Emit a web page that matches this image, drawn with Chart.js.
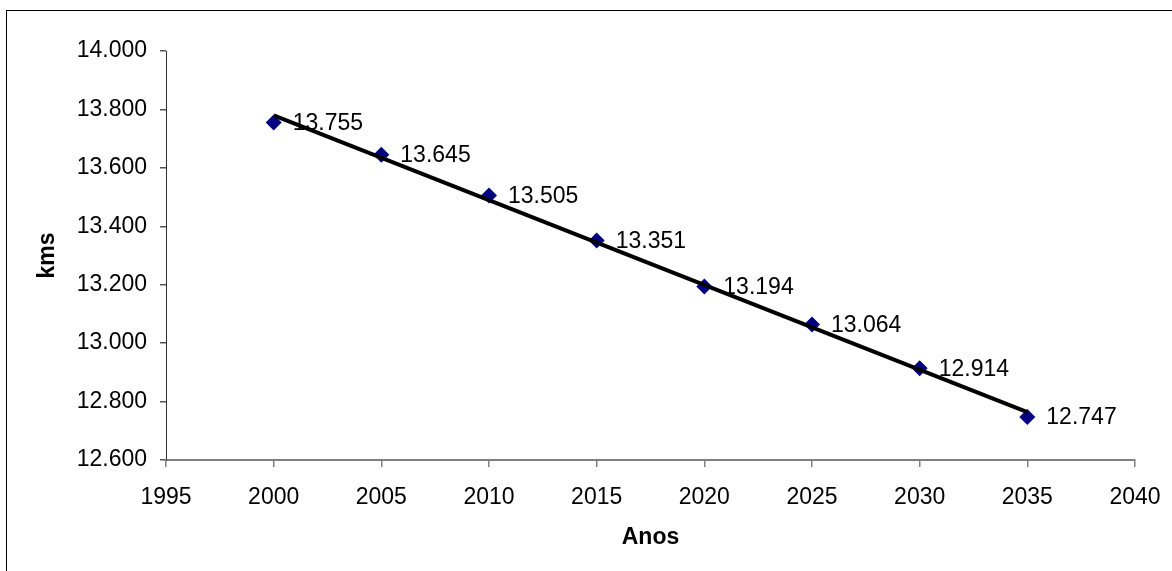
<!DOCTYPE html>
<html>
<head>
<meta charset="utf-8">
<script src="https://cdn.jsdelivr.net/npm/chart.js@4.4.1/dist/chart.umd.min.js"></script>
<style>
  html, body { margin: 0; padding: 0; background: #fff; overflow: hidden; }
  #frame {
    position: absolute; left: 6px; top: 10px; width: 1200px; height: 600px;
    border-left: 1px solid #000; border-top: 1px solid #000;
  }
  #chart { position: absolute; left: 0; top: 0; }
</style>
</head>
<body>
<div id="frame"></div>
<canvas id="chart" width="1172" height="571"></canvas>
<script>
// Chart data
const years = [2000, 2005, 2010, 2015, 2020, 2025, 2030, 2035];
const kms = [13755, 13645, 13505, 13351, 13194, 13064, 12914, 12747];
const xTicks = [1995, 2000, 2005, 2010, 2015, 2020, 2025, 2030, 2035, 2040];
const yTicks = [12600, 12800, 13000, 13200, 13400, 13600, 13800, 14000];

const FONT = "'Liberation Sans', Arial, sans-serif";

// thousands separator as in the original (pt)
function fmt(v) {
    return String(Math.round(v)).replace(/\B(?=(\d{3})+(?!\d))/g, '.');
}

// Linear trendline (least squares) like Excel's
function linearFit(xs, ys) {
    const n = xs.length;
    const mx = xs.reduce((a, b) => a + b, 0) / n;
    const my = ys.reduce((a, b) => a + b, 0) / n;
    let sxy = 0, sxx = 0;
    for (let i = 0; i < n; i++) {
        sxy += (xs[i] - mx) * (ys[i] - my);
        sxx += (xs[i] - mx) * (xs[i] - mx);
    }
    const slope = sxy / sxx;
    return x => my + slope * (x - mx);
}

const fit = linearFit(years, kms);
const xFirst = years[0];
const xLast = years[years.length - 1];

// draw value labels right after the markers, so the trendline goes over them
const valueLabels = {
    id: 'valueLabels',
    afterDatasetDraw(chart, args) {
        if (args.index !== 0) return;
        const ctx = chart.ctx;
        ctx.save();
        ctx.font = '23px ' + FONT;
        ctx.fillStyle = '#000';
        ctx.textAlign = 'left';
        ctx.textBaseline = 'middle';
        args.meta.data.forEach((pt, i) => {
            ctx.fillText(fmt(kms[i]), pt.x + 19, pt.y + 1);
        });
        ctx.restore();
    }
};

new Chart(document.getElementById('chart'), {
    type: 'scatter',
    data: {
        datasets: [{
            label: 'kms',
            data: years.map((y, i) => ({ x: y, y: kms[i] })),
            pointStyle: 'rectRot',
            pointRadius: 8,
            pointHoverRadius: 8,
            backgroundColor: '#000080',
            borderColor: '#000080',
            borderWidth: 0,
            order: 1
        }, {
            label: 'Linear',
            type: 'line',
            data: [{ x: xFirst, y: fit(xFirst) }, { x: xLast, y: fit(xLast) }],
            borderColor: '#000',
            borderWidth: 4,
            pointRadius: 0,
            fill: false,
            order: 0
        }]
    },
    options: {
        responsive: false,
        animation: false,
        devicePixelRatio: 1,
        layout: { padding: { top: 51, right: 37, left: 0, bottom: 0 } },
        plugins: {
            legend: { display: false },
            tooltip: { enabled: false }
        },
        scales: {
            x: {
                type: 'linear',
                min: 1995,
                max: 2040,
                afterBuildTicks: s => { s.ticks = xTicks.map(v => ({ value: v })); },
                afterFit: s => { s.height = 111; s.paddingLeft = 0; s.paddingRight = 0; },
                border: { color: '#808080', width: 2 },
                grid: { drawOnChartArea: false, tickLength: 7, color: '#808080', lineWidth: 1.5 },
                ticks: {
                    color: '#000',
                    padding: 17,
                    maxRotation: 0,
                    font: { family: FONT, size: 23 },
                    callback: v => String(v)
                },
                title: {
                    display: true,
                    text: 'Anos',
                    color: '#000',
                    font: { family: FONT, size: 23, weight: 'bold' },
                    padding: { top: 0, bottom: 20 }
                }
            },
            y: {
                min: 12600,
                max: 14000,
                afterBuildTicks: s => { s.ticks = yTicks.map(v => ({ value: v })); },
                afterFit: s => { s.width = 166; s.paddingTop = 0; s.paddingBottom = 0; },
                border: { color: '#333', width: 1 },
                grid: { drawOnChartArea: false, tickLength: 6, color: '#555', lineWidth: 1.5 },
                ticks: {
                    color: '#000',
                    padding: 13,
                    font: { family: FONT, size: 23 },
                    callback: v => fmt(v)
                },
                title: {
                    display: true,
                    text: 'kms',
                    color: '#000',
                    font: { family: FONT, size: 23, weight: 'bold' },
                    padding: { top: 34, bottom: 0 }
                }
            }
        }
    },
    plugins: [valueLabels]
});
</script>
</body>
</html>
